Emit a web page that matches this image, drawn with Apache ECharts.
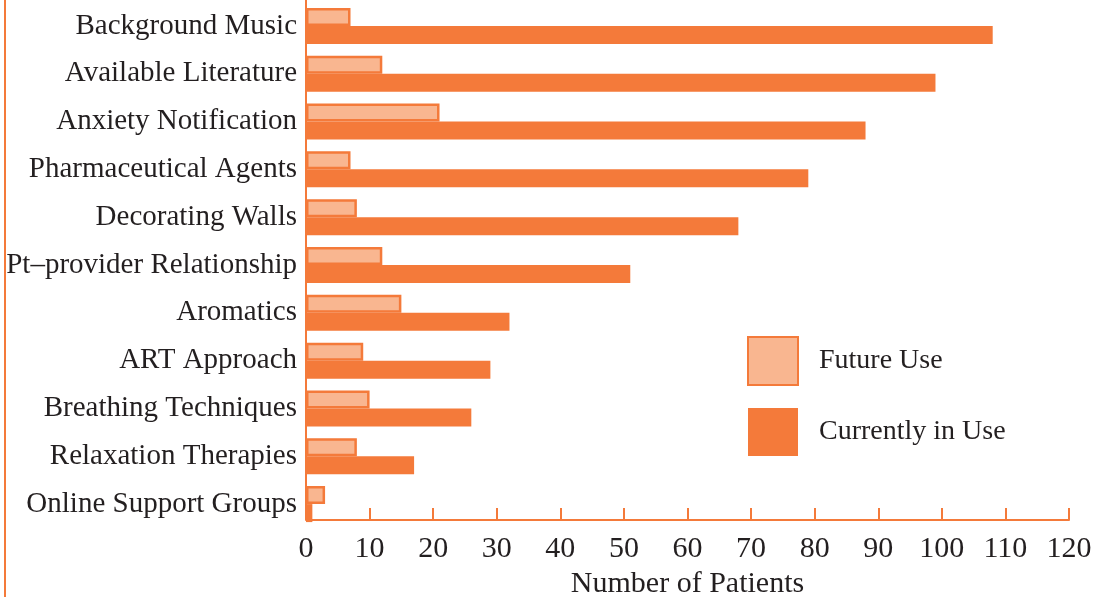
<!DOCTYPE html>
<html><head><meta charset="utf-8">
<script src="https://cdn.jsdelivr.net/npm/echarts@6/dist/echarts.min.js"></script>
<style>html,body{margin:0;padding:0;background:#fff}#c{width:1093px;height:597px}</style>
</head><body><div id="c"></div>
<script>
const categories = ["Background Music","Available Literature","Anxiety Notification","Pharmaceutical Agents","Decorating Walls","Pt\u2013provider Relationship","Aromatics","ART Approach","Breathing Techniques","Relaxation Therapies","Online Support Groups"];
const futureUse = [7,12,21,7,8,12,15,9,10,8,3];
const currentlyInUse = [108,99,88,79,68,51,32,29,26,17,1];
const xTicks = {min:0,max:120,interval:10};

const ORANGE='#F47A3A', LIGHT='#F9B690', TXT='#231f20', FONT='Liberation Serif';
const GL=306, AXY=520;
const chart = echarts.init(document.getElementById('c'));
chart.setOption({
  animation:false,
  grid:{left:GL,right:24,top:2,bottom:69,containLabel:false,outerBoundsMode:'none'},
  legend:{orient:'vertical',left:747,top:336,padding:0,itemWidth:50,itemHeight:48,itemGap:22,icon:'rect',
    textStyle:{fontFamily:FONT,fontSize:28,color:TXT,padding:[0,0,0,16]},
    data:['Future Use','Currently in Use']},
  xAxis:{type:'value',min:xTicks.min,max:xTicks.max,interval:xTicks.interval,offset:-8,
    name:'Number of Patients',nameLocation:'middle',nameGap:46,
    nameTextStyle:{fontFamily:FONT,fontSize:30,color:TXT},
    axisLine:{show:true,lineStyle:{color:ORANGE,width:2}},
    axisTick:{show:true,inside:true,length:12,lineStyle:{color:ORANGE,width:2}},
    axisLabel:{fontFamily:FONT,fontSize:30,color:TXT,margin:14},
    splitLine:{show:false}},
  yAxis:{type:'category',data:categories,inverse:true,
    axisLine:{show:false},
    axisTick:{show:false},
    axisLabel:{fontFamily:FONT,fontSize:29,color:TXT,margin:9,padding:[4,0,0,0]}},
  series:[
    {name:'Future Use',type:'bar',data:futureUse,barWidth:18,barGap:'0%',
      itemStyle:{color:LIGHT,borderColor:ORANGE,borderWidth:2.5}},
    {name:'Currently in Use',type:'bar',data:currentlyInUse,barWidth:18,barGap:'0%',
      itemStyle:{color:ORANGE}}
  ],
  graphic:[
    {type:'line',shape:{x1:5,y1:0,x2:5,y2:597},style:{stroke:ORANGE,lineWidth:2}},
    {type:'line',shape:{x1:GL,y1:0,x2:GL,y2:AXY},style:{stroke:ORANGE,lineWidth:2},z:10}
  ]
});
</script></body></html>
